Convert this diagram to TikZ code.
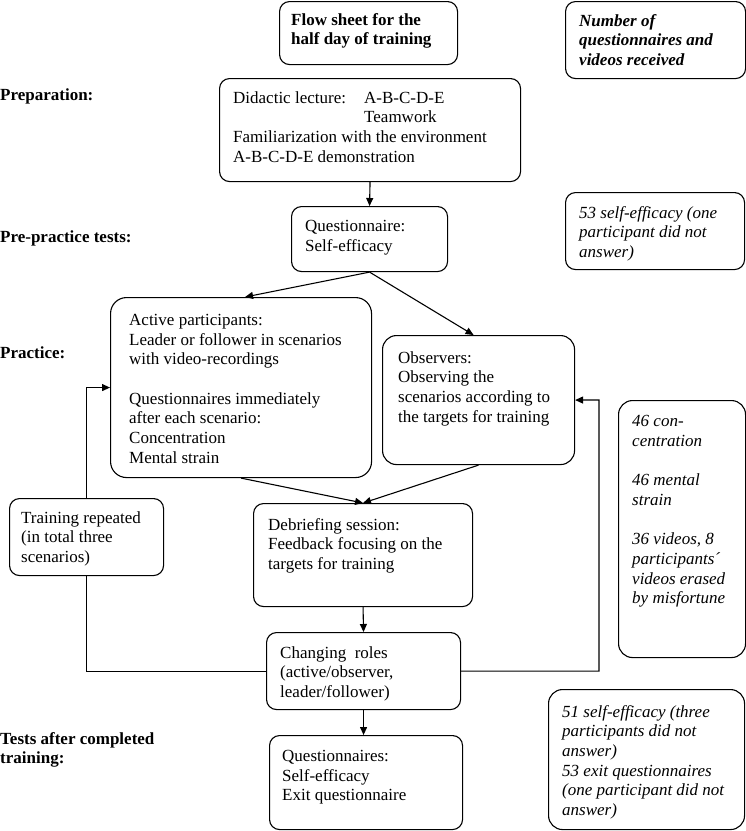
\documentclass[tikz,border=0pt]{standalone}
\usepackage{fontspec}
\setmainfont{Liberation Serif}
\usetikzlibrary{arrows.meta}
\begin{document}
\begin{tikzpicture}[x=1pt,y=-1pt]
    \tikzset{box/.style={draw, rounded corners=#1, line width=1.1pt, anchor=north west, inner sep=0pt},
        % corner radius of the small boxes
        box/.default={10pt},
        txt/.style={anchor=north west, inner sep=0pt, align=left, font=\fontsize{17}{19.7}\selectfont},
        stage/.style={txt, font=\fontsize{17}{19.7}\selectfont\bfseries},
        arr/.style={-{Triangle[length=8pt,width=7pt]}, line width=1.1pt}}
    \useasboundingbox (0,0) rectangle (746,831);

    %Stages
    \node[stage] (prep) at (0,88)   {Preparation:};
    \node[stage] (pre)  at (0,230)  {Pre-practice tests:};
    \node[stage] (prac) at (0,346)  {Practice:};
    \node[stage] (post) at (0,732)  {Tests after completed\\training:};

    %Boxes
    \node[box, minimum width=178pt, minimum height=63pt]  (title)     at (279,1)   {};
    \node[box, minimum width=180pt, minimum height=77pt]  (number)    at (565,1)   {};
    \node[box, minimum width=301pt, minimum height=103pt] (didactic)  at (219,78)  {};
    \node[box, minimum width=156pt, minimum height=65pt]  (q1)        at (291,206) {};
    \node[box, minimum width=179pt, minimum height=77pt]  (s53)       at (565,192) {};
    \node[box=16pt, minimum width=261pt, minimum height=180pt] (active) at (110,297) {};
    \node[box=14pt, minimum width=192pt, minimum height=129pt] (observers) at (382,335) {};
    \node[box=14pt, minimum width=127pt, minimum height=257pt] (s46) at (618,400) {};
    \node[box, minimum width=154pt, minimum height=77pt]  (repeated)  at (9,498)   {};
    \node[box, minimum width=219pt, minimum height=103pt] (debrief)   at (253,503) {};
    \node[box, minimum width=194pt, minimum height=77pt]  (changing)  at (266,632) {};
    \node[box, minimum width=193pt, minimum height=94pt]  (qfinal)    at (269,735) {};
    \node[box=14pt, minimum width=196pt, minimum height=140pt] (s51) at (548,689) {};

    %Texts
    \node[txt, font=\fontsize{17}{19.7}\selectfont\bfseries] (titleT) at (291,13) {Flow sheet for the\\half day of training};
    \node[txt, font=\fontsize{17}{19.7}\selectfont\bfseries\itshape] (numberT) at (579,14) {Number of\\questionnaires and\\videos received};
    \node[txt] (didacticT) at (233,91) {\makebox[131pt][l]{Didactic lecture:}A-B-C-D-E\\\hspace*{131pt}Teamwork\\Familiarization with the environment\\A-B-C-D-E demonstration};
    \node[txt] (q1T) at (305,220) {Questionnaire:\\Self-efficacy};
    \node[txt, font=\fontsize{17}{19.7}\selectfont\itshape] (s53T) at (579,206) {53 self-efficacy (one\\participant did not\\answer)};
    \node[txt] (activeT) at (129,314) {Active participants:\\Leader or follower in scenarios\\with video-recordings\\[19.7pt]Questionnaires immediately\\after each scenario:\\Concentration\\Mental strain};
    \node[txt] (observersT) at (398,351) {Observers:\\Observing the\\scenarios according to\\the targets for training};
    \node[txt, font=\fontsize{17}{19.7}\selectfont\itshape] (s46T) at (632,415) {46 con-\\centration\\[19.7pt]46 mental\\strain\\[19.7pt]36 videos, 8\\participants´\\videos erased\\by misfortune};
    \node[txt] (repeatedT) at (21,511) {Training repeated\\(in total three\\scenarios)};
    \node[txt] (debriefT) at (268,518) {Debriefing session:\\Feedback focusing on the\\targets for training};
    \node[txt] (changingT) at (280,646) {Changing\ \ roles\\(active/observer,\\leader/follower)};
    \node[txt] (qfinalT) at (282,750) {Questionnaires:\\Self-efficacy\\Exit questionnaire};
    \node[txt, font=\fontsize{17}{19.7}\selectfont\itshape] (s51T) at (562,705) {51 self-efficacy (three\\participants did not\\answer)\\53 exit questionnaires\\(one participant did not\\answer)};

    %Flow
    \draw[arr] (didactic.south) -- (q1.north);
    \draw[arr] (q1.south) -- ([xshift=4pt]active.north);
    \draw[arr] (q1.south) -- ([xshift=-5pt]observers.north);
    \draw[arr] (active.south) -- (debrief.north);
    \draw[arr] (observers.south) -- (debrief.north);
    \draw[arr] (debrief.south) -- (changing.north);
    \draw[arr] (changing.south) -- (changing.south |- qfinal.north);

    %Repetition
    \coordinate (loopR) at (599,400);
    \draw[arr] (repeated.north) |- (active.west);
    \draw[line width=1.1pt] (repeated.south) |- (changing.west);
    \draw[arr] (changing.east) -| (loopR) -- (observers.east);

\end{tikzpicture}
\end{document}
